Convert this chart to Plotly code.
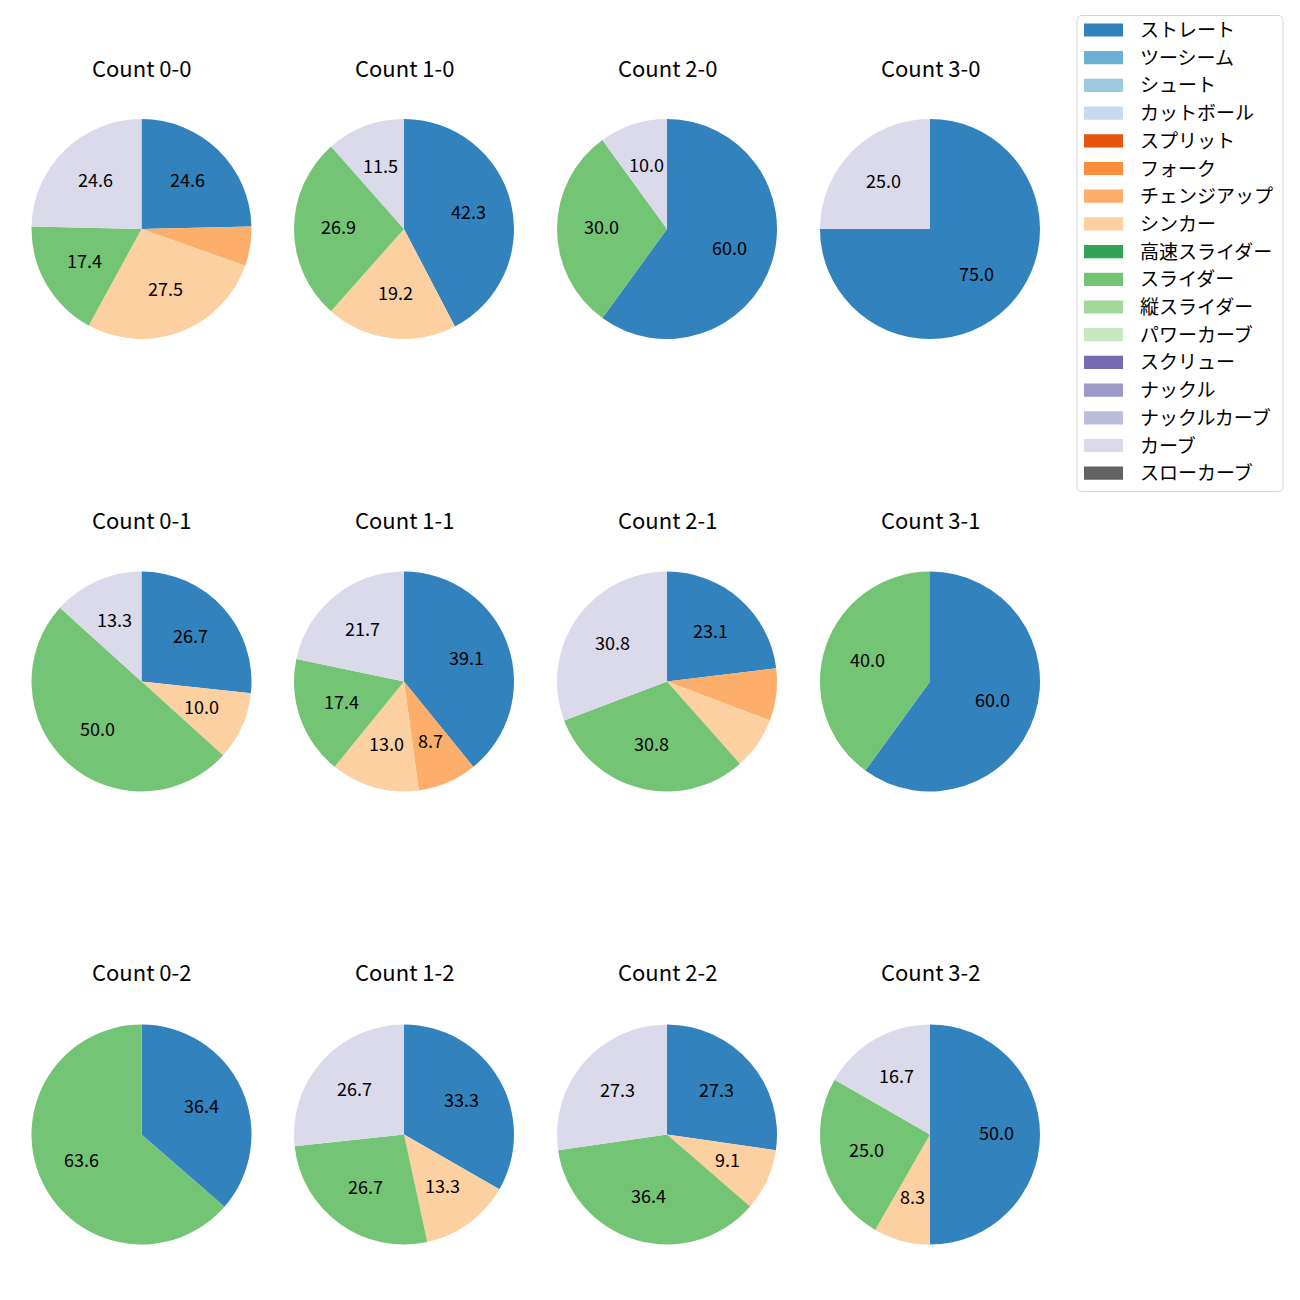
import math
import plotly.graph_objects as go

# ---- data ----
pitch_types = ["ストレート", "ツーシーム", "シュート", "カットボール", "スプリット", "フォーク",
               "チェンジアップ", "シンカー", "高速スライダー", "スライダー", "縦スライダー",
               "パワーカーブ", "スクリュー", "ナックル", "ナックルカーブ", "カーブ", "スローカーブ"]
pitch_colors = ["#3182bd", "#6baed6", "#9ecae1", "#c6dbef", "#e6550d", "#fd8d3c",
                "#fdae6b", "#fdd0a2", "#31a354", "#74c476", "#a1d99b",
                "#c7e9c0", "#756bb1", "#9e9ac8", "#bcbddc", "#dadaeb", "#636363"]

count_labels = ["0-0", "1-0", "2-0", "3-0",
                "0-1", "1-1", "2-1", "3-1",
                "0-2", "1-2", "2-2", "3-2"]

straight = [24.6, 42.3, 60.0, 75.0, 26.7, 39.1, 23.1, 60.0, 36.4, 33.3, 27.3, 50.0]
changeup = [5.8, 0, 0, 0, 0, 8.7, 7.7, 0, 0, 0, 0, 0]
sinker = [27.5, 19.2, 0, 0, 10.0, 13.0, 7.7, 0, 0, 13.3, 9.1, 8.3]
slider = [17.4, 26.9, 30.0, 0, 50.0, 17.4, 30.8, 40.0, 63.6, 26.7, 36.4, 25.0]
curve = [24.6, 11.5, 10.0, 25.0, 13.3, 21.7, 30.8, 0, 0, 26.7, 27.3, 16.7]

used_types = ["ストレート", "チェンジアップ", "シンカー", "スライダー", "カーブ"]
used_values = [straight, changeup, sinker, slider, curve]
label_min_pct = 8.0

# ---- layout geometry (pixels in the screenshot) ----
W = H = 1300
OFF = 8  # page body margin
FONT = "Noto Sans CJK JP"
col_cx = [141.5, 404, 667, 930]
row_cy = [229, 681.5, 1134.5]
title_y = [67, 519, 971]
R = 110
TXT_DY = -2.5  # vertical correction for text baseline


def px(x):
    return (x - OFF) / W


def py(y):
    return 1 - (y - OFF) / H


color_of = dict(zip(pitch_types, pitch_colors))

fig = go.Figure()
annotations = []
shapes = []

for i, cnt in enumerate(count_labels):
    r, c = divmod(i, 4)
    cx, cy = col_cx[c], row_cy[r]
    vals = [v[i] for v in used_values]
    labs = [t for t, v in zip(used_types, vals) if v > 0]
    vv = [v for v in vals if v > 0]
    fig.add_trace(go.Pie(
        labels=labs, values=vv,
        marker=dict(colors=[color_of[t] for t in labs], line=dict(width=0)),
        sort=False, direction="clockwise", rotation=0,
        textinfo="none", hoverinfo="label+percent", showlegend=False,
        domain=dict(x=[px(cx - R), px(cx + R)], y=[py(cy + R), py(cy - R)]),
    ))
    total = sum(vv)
    cum = 0.0
    for v in vv:
        frac = v / total
        pct = frac * 100
        theta = math.radians(90 - 360 * (cum + frac / 2))
        cum += frac
        if pct >= label_min_pct:
            lx = cx + 0.6 * R * math.cos(theta)
            ly = cy - 0.6 * R * math.sin(theta) + TXT_DY
            annotations.append(dict(
                x=px(lx), y=py(ly), xref="paper", yref="paper",
                text=f"{pct:.1f}", showarrow=False,
                xanchor="center", yanchor="middle",
                font=dict(family=FONT, size=18, color="#000000")))
    annotations.append(dict(
        x=px(cx), y=py(title_y[r]), xref="paper", yref="paper",
        text=f"Count {cnt}", showarrow=False,
        xanchor="center", yanchor="middle",
        font=dict(family=FONT, size=22, color="#000000")))

# ---- legend (drawn manually, matplotlib style) ----
lx0, lx1, ly0, ly1, rad = 1077, 1283, 15.5, 491.5, 5
path = (f"M {px(lx0 + rad)},{py(ly0)} L {px(lx1 - rad)},{py(ly0)} "
        f"Q {px(lx1)},{py(ly0)} {px(lx1)},{py(ly0 + rad)} "
        f"L {px(lx1)},{py(ly1 - rad)} Q {px(lx1)},{py(ly1)} {px(lx1 - rad)},{py(ly1)} "
        f"L {px(lx0 + rad)},{py(ly1)} Q {px(lx0)},{py(ly1)} {px(lx0)},{py(ly1 - rad)} "
        f"L {px(lx0)},{py(ly0 + rad)} Q {px(lx0)},{py(ly0)} {px(lx0 + rad)},{py(ly0)} Z")
shapes.append(dict(type="path", path=path, xref="paper", yref="paper",
                   fillcolor="rgba(255,255,255,0.8)", line=dict(color="#d5d5d5", width=1)))
row0, drow = 30.0, 27.7
for k, (t, col) in enumerate(zip(pitch_types, pitch_colors)):
    yc = row0 + k * drow
    shapes.append(dict(type="rect", xref="paper", yref="paper",
                       x0=px(1084), x1=px(1123), y0=py(yc + 6.6), y1=py(yc - 6.6),
                       fillcolor=col, line=dict(width=0)))
    annotations.append(dict(
        x=px(1138), y=py(yc - 1.5), xref="paper", yref="paper", text=t, showarrow=False,
        xanchor="left", yanchor="middle",
        font=dict(family=FONT, size=19, color="#000000")))

fig.update_layout(
    width=W, height=H, margin=dict(l=0, r=0, t=0, b=0),
    paper_bgcolor="white", plot_bgcolor="white",
    annotations=annotations, shapes=shapes,
    font=dict(family=FONT),
)

fig.write_html("out.html")
